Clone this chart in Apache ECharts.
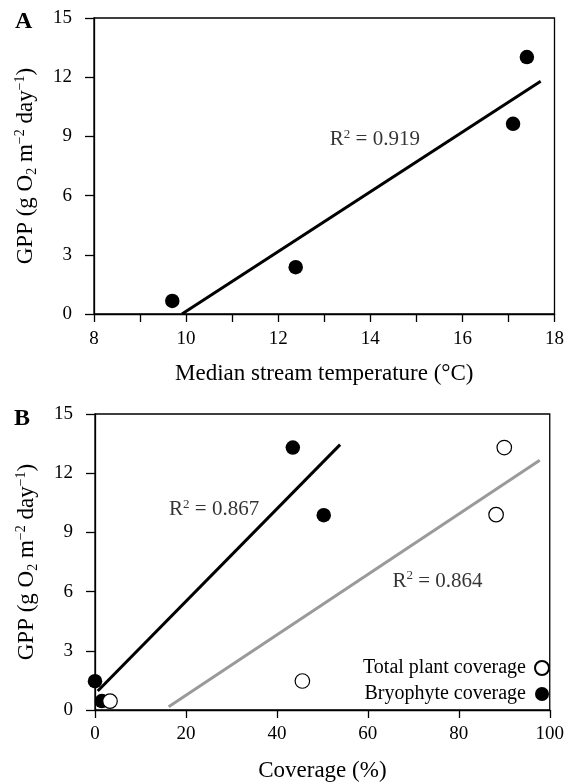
<!DOCTYPE html>
<html>
<head>
<meta charset="utf-8">
<script src="https://cdn.jsdelivr.net/npm/echarts@6/dist/echarts.min.js"></script>
<style>html,body{margin:0;padding:0;background:#fff}#c{width:567px;height:783px}</style>
</head>
<body>
<div id="c"></div>
<script>
// Panel A data
var tempX = [9.7, 12.38, 17.1, 17.4];
var gppA = [0.66, 2.37, 9.64, 13.02];
var fitAX = [9.91, 17.7];
var fitAY = [0, 11.79];
var r2A = {x: 14.1, y: 8.83, text: '0.919'};

// Panel B data
var bryoX = [0, 1.5, 43.5, 50.3];
var totalX = [3.3, 45.6, 88.2, 90.0];
var gppBBryo = [1.46, 0.45, 13.3, 9.87];
var gppBTotal = [0.45, 1.47, 9.9, 13.3];
var fitBryoX = [0.6, 53.9];
var fitBryoY = [0.96, 13.45];
var fitTotalX = [16.2, 97.8];
var fitTotalY = [0.17, 12.65];
var r2Bryo = {x: 26.2, y: 10.15, text: '0.867'};
var r2Total = {x: 75.3, y: 6.53, text: '0.864'};

var FONT = 'Liberation Serif';
var INK = '#000';
var chart = echarts.init(document.getElementById('c'));

function zip(xs, ys) { return xs.map(function (x, i) { return [x, ys[i]]; }); }

var supRich = {
  n: {fontFamily: FONT, fontSize: 23, color: INK, lineHeight: 26},
  sub: {fontFamily: FONT, fontSize: 14, color: INK, verticalAlign: 'bottom', lineHeight: 14},
  sup: {fontFamily: FONT, fontSize: 14, color: INK, verticalAlign: 'top', lineHeight: 14}
};
var yName = '{n|GPP (g O}{sub|2}{n| m}{sup|\u22122}{n| day}{sup|\u22121}{n|)}';

var axisLineStyle = {color: INK, width: 1.3};

function yAxisDef(gi) {
  return {
    gridIndex: gi, type: 'value', min: 0, max: 15, interval: 3,
    axisLine: {show: true, lineStyle: axisLineStyle},
    axisTick: {show: true, length: 9, lineStyle: axisLineStyle},
    splitLine: {show: false},
    axisLabel: {color: INK, fontFamily: FONT, fontSize: 19, margin: 22},
    name: yName, nameLocation: 'middle', nameRotate: 90, nameGap: 55,
    nameTextStyle: {rich: supRich}
  };
}

var r2Rich = {
  r: {fontFamily: FONT, fontSize: 21, color: INK, lineHeight: 24},
  s: {fontFamily: FONT, fontSize: 13, color: INK, verticalAlign: 'top', lineHeight: 13}
};
function r2Series(xi, yi, p) {
  return {
    type: 'scatter', xAxisIndex: xi, yAxisIndex: yi, symbolSize: 0, silent: true,
    data: [[p.x, p.y]],
    label: {show: true, position: 'inside', formatter: '{r|R}{s|2}{r| = ' + p.text + '}', rich: r2Rich},
    z: 5
  };
}

var option = {
  animation: false,
  backgroundColor: '#fff',
  grid: [
    {left: 94, right: 12, top: 18, height: 296, show: true, borderColor: INK, borderWidth: 1.3, backgroundColor: 'transparent'},
    {left: 95, right: 12, top: 414, height: 297, show: true, borderColor: INK, borderWidth: 1.3, backgroundColor: 'transparent'}
  ],
  xAxis: [
    {
      gridIndex: 0, type: 'value', min: 8, max: 18, interval: 1,
      axisLine: {show: true, lineStyle: axisLineStyle},
      axisTick: {show: true, length: 8, lineStyle: axisLineStyle},
      splitLine: {show: false},
      axisLabel: {color: INK, fontFamily: FONT, fontSize: 19, margin: 16,
        formatter: function (v) { return v % 2 === 0 ? String(v) : ''; }},
      name: 'Median stream temperature (\u00b0C)', nameLocation: 'middle', nameGap: 48,
      nameTextStyle: {color: INK, fontFamily: FONT, fontSize: 23}
    },
    {
      gridIndex: 1, type: 'value', min: 0, max: 100, interval: 20,
      axisLine: {show: true, lineStyle: axisLineStyle},
      axisTick: {show: true, length: 8, lineStyle: axisLineStyle},
      splitLine: {show: false},
      axisLabel: {color: INK, fontFamily: FONT, fontSize: 19, margin: 15},
      name: 'Coverage (%)', nameLocation: 'middle', nameGap: 49,
      nameTextStyle: {color: INK, fontFamily: FONT, fontSize: 23}
    }
  ],
  yAxis: [yAxisDef(0), yAxisDef(1)],
  legend: {
    data: ['Total plant coverage', 'Bryophyte coverage'],
    orient: 'vertical', right: 17, top: 658, align: 'right', padding: 0,
    itemWidth: 14, itemHeight: 14, itemGap: 6, icon: 'circle',
    textStyle: {fontFamily: FONT, fontSize: 20, color: INK, padding: [0, 4, 0, 0]},
    selectedMode: false
  },
  graphic: [
    {type: 'text', left: 15, top: 10, style: {text: 'A', font: 'bold 24px "Liberation Serif"', fill: INK}},
    {type: 'text', left: 14, top: 407, style: {text: 'B', font: 'bold 24px "Liberation Serif"', fill: INK}}
  ],
  series: [
    {
      type: 'line', xAxisIndex: 0, yAxisIndex: 0, data: zip(fitAX, fitAY), symbol: 'none',
      lineStyle: {color: INK, width: 3}, z: 2
    },
    {
      type: 'scatter', xAxisIndex: 0, yAxisIndex: 0, data: zip(tempX, gppA), symbol: 'circle', symbolSize: 14.5,
      itemStyle: {color: INK, opacity: 1}, clip: false, z: 3
    },
    r2Series(0, 0, r2A),
    {
      type: 'line', xAxisIndex: 1, yAxisIndex: 1, data: zip(fitTotalX, fitTotalY), symbol: 'none',
      lineStyle: {color: '#9a9a9a', width: 3}, z: 2
    },
    {
      type: 'line', xAxisIndex: 1, yAxisIndex: 1, data: zip(fitBryoX, fitBryoY), symbol: 'none',
      lineStyle: {color: INK, width: 3}, z: 2
    },
    {
      name: 'Bryophyte coverage', type: 'scatter', xAxisIndex: 1, yAxisIndex: 1, data: zip(bryoX, gppBBryo),
      symbol: 'circle', symbolSize: 14.5, itemStyle: {color: INK, opacity: 1}, clip: false, z: 3
    },
    {
      name: 'Total plant coverage', type: 'scatter', xAxisIndex: 1, yAxisIndex: 1, data: zip(totalX, gppBTotal),
      symbol: 'circle', symbolSize: 14.5, itemStyle: {color: '#fff', borderColor: INK, borderWidth: 1.2, opacity: 1}, clip: false, z: 4
    },
    r2Series(1, 1, r2Bryo),
    r2Series(1, 1, r2Total)
  ]
};
chart.setOption(option);
</script>
</body>
</html>
